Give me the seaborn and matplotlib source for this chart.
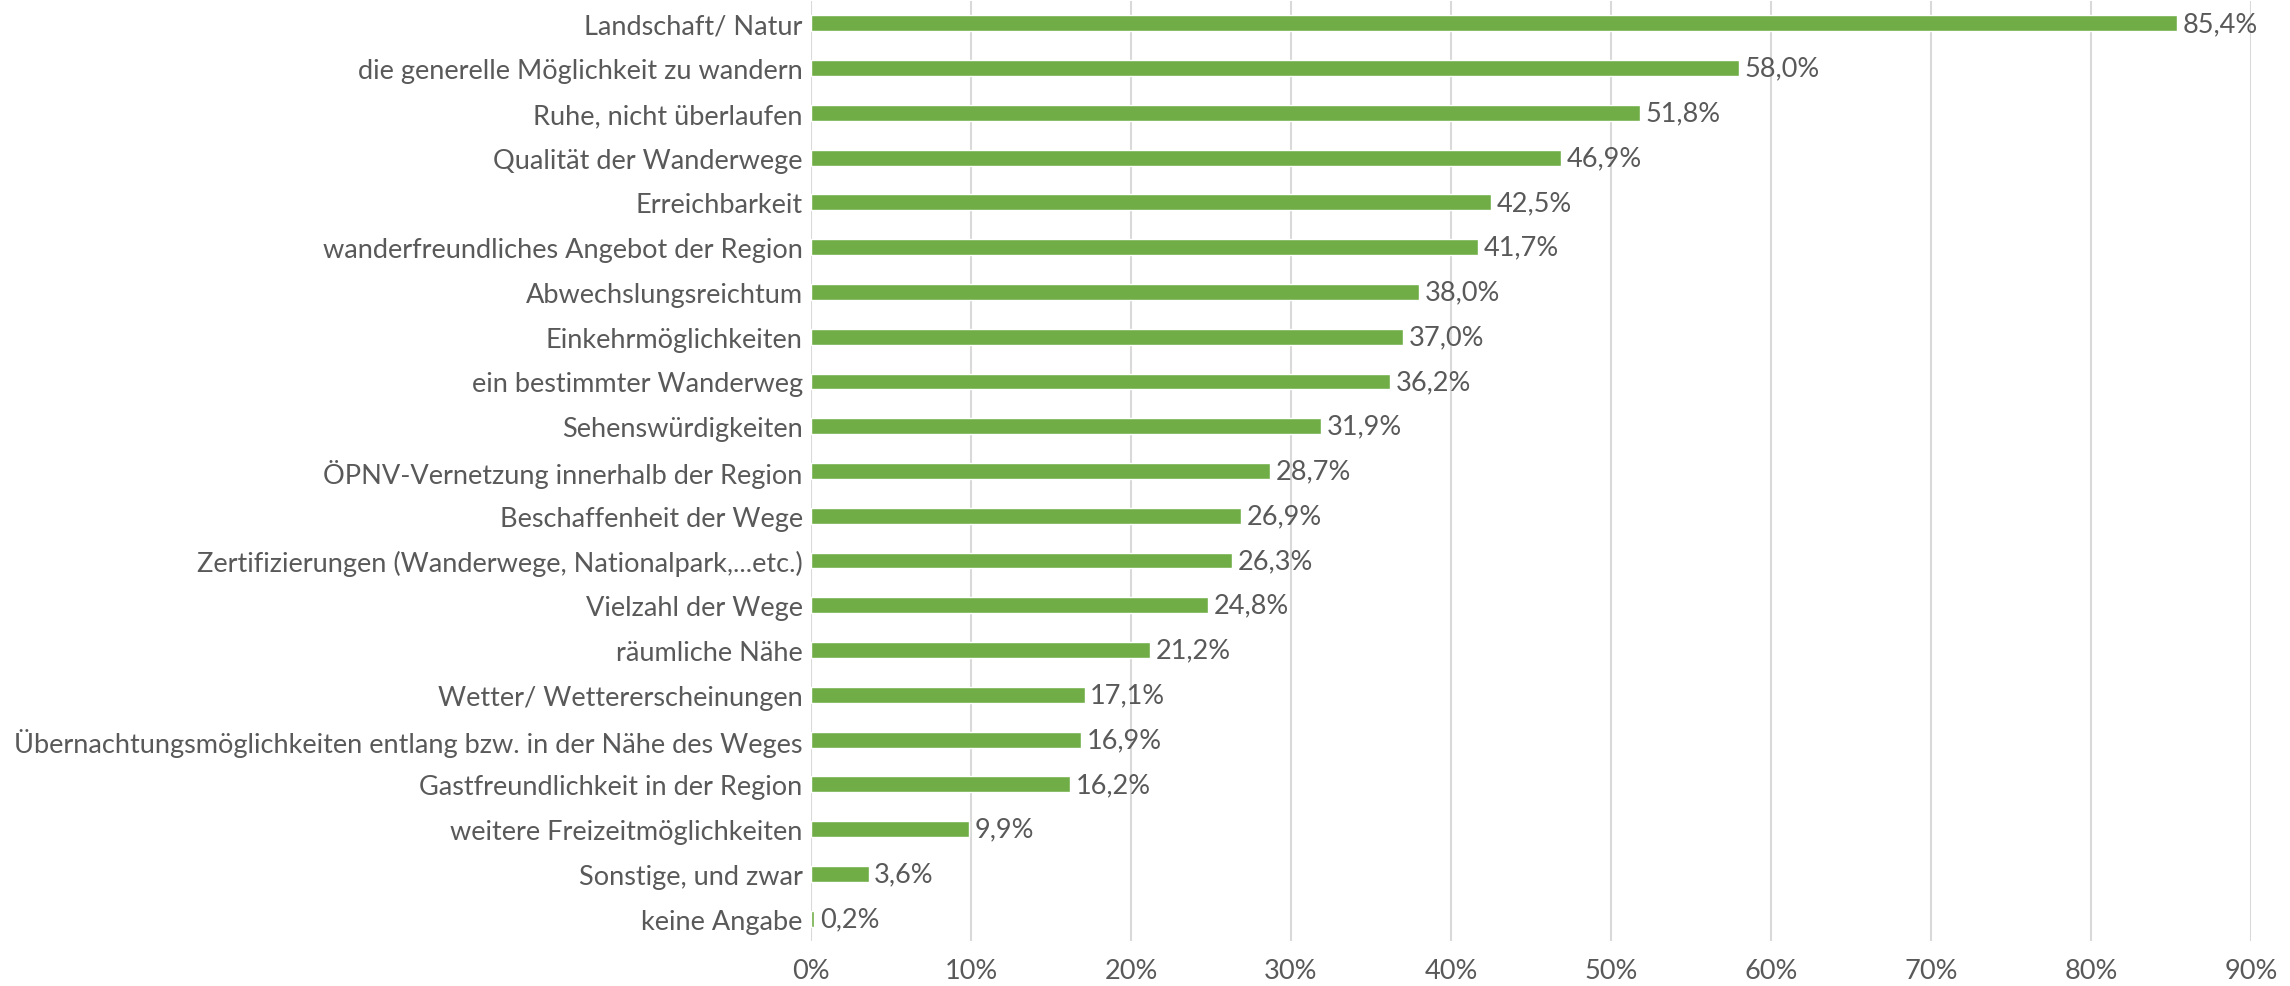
import matplotlib
matplotlib.use("Agg")
import matplotlib.pyplot as plt
import seaborn as sns
import pandas as pd

categories = [
    "Landschaft/ Natur",
    "die generelle Möglichkeit zu wandern",
    "Ruhe, nicht überlaufen",
    "Qualität der Wanderwege",
    "Erreichbarkeit",
    "wanderfreundliches Angebot der Region",
    "Abwechslungsreichtum",
    "Einkehrmöglichkeiten",
    "ein bestimmter Wanderweg",
    "Sehenswürdigkeiten",
    "ÖPNV-Vernetzung innerhalb der Region",
    "Beschaffenheit der Wege",
    "Zertifizierungen (Wanderwege, Nationalpark,...etc.)",
    "Vielzahl der Wege",
    "räumliche Nähe",
    "Wetter/ Wettererscheinungen",
    "Übernachtungsmöglichkeiten entlang bzw. in der Nähe des Weges",
    "Gastfreundlichkeit in der Region",
    "weitere Freizeitmöglichkeiten",
    "Sonstige, und zwar",
    "keine Angabe",
]
values = [85.4, 58.0, 51.8, 46.9, 42.5, 41.7, 38.0, 37.0, 36.2, 31.9, 28.7,
          26.9, 26.3, 24.8, 21.2, 17.1, 16.9, 16.2, 9.9, 3.6, 0.2]
xticks = [0, 10, 20, 30, 40, 50, 60, 70, 80, 90]
xtick_labels = [f"{t}%" for t in xticks]

sns.set_theme(style="white")
plt.rcParams["font.family"] = ["Lato", "DejaVu Sans"]

TEXT = "#595959"
GREEN = "#70AD47"
GRID = "#D9D9D9"
FS = 19.5

df = pd.DataFrame({"cat": categories, "val": values})

fig = plt.figure(figsize=(22.9, 9.87), dpi=100)
ax = fig.add_axes([811 / 2290, 45 / 987, (2251 - 811) / 2290, 940 / 987])

sns.barplot(data=df, y="cat", x="val", orient="h", color=GREEN,
            width=0.355, ax=ax, saturation=1, zorder=3)

ax.set_xlim(0, 90)
ax.set_ylim(len(categories) - 0.5, -0.5)
ax.set_xticks(xticks)
ax.set_xticklabels(xtick_labels)
ax.xaxis.grid(True, color=GRID, linewidth=1.5, zorder=0)
ax.yaxis.grid(False)
ax.set_axisbelow(True)
for s in ax.spines.values():
    s.set_visible(False)
ax.set_xlabel("")
ax.set_ylabel("")
ax.tick_params(axis="both", length=0, labelsize=FS, colors=TEXT)
ax.tick_params(axis="y", pad=6)
ax.tick_params(axis="x", pad=12)

for i, v in enumerate(values):
    ax.annotate(f"{v:.1f}%".replace(".", ","), xy=(v, i), xytext=(4, 0),
                textcoords="offset points", va="center", ha="left",
                fontsize=FS, color=TEXT)

fig.savefig("out.png", dpi=100, facecolor="white")
